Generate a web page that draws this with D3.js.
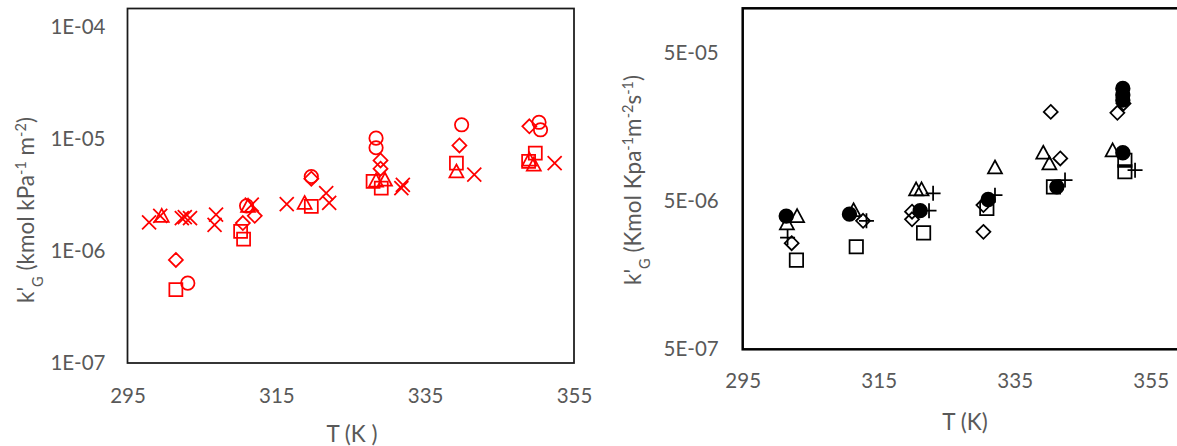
<!DOCTYPE html>
<html>
<head>
<meta charset="utf-8">
<script src="https://cdn.jsdelivr.net/npm/d3@7"></script>
<style>
  body { margin: 0; background: #fff; }
  svg { display: block; font-family: Lato, "Open Sans", sans-serif; }
  .tick text { fill: #595959; font-size: 20.5px; }
  .title { fill: #595959; font-size: 22.5px; }
</style>
</head>
<body>
<svg id="chart" width="1177" height="446"></svg>
<script>
/* x ticks shared by both panels */
var tempTicks = [295, 315, 335, 355];

/* left panel (red markers) */
var leftKTicks = [1e-7, 1e-6, 1e-5, 1e-4];
var redCircleT = [303.1, 311.0, 319.7, 328.4, 328.4, 339.9, 350.3, 350.5];
var redCircleK = [5.15e-7, 2.52e-6, 4.6e-6, 1.01e-5, 8.3e-6, 1.33e-5, 1.40e-5, 1.2e-5];
var redDiamondT = [301.5, 310.5, 312.1, 319.7, 329.0, 329.0, 339.6, 349.0];
var redDiamondK = [8.3e-7, 1.77e-6, 2.05e-6, 4.4e-6, 6.4e-6, 5.4e-6, 8.7e-6, 1.29e-5];
var redSquareT = [301.5, 310.2, 310.6, 319.7, 328.0, 329.1, 339.2, 348.9, 349.8];
var redSquareK = [4.5e-7, 1.49e-6, 1.27e-6, 2.49e-6, 4.16e-6, 3.63e-6, 6.06e-6, 6.26e-6, 7.45e-6];
var redTriangleT = [299.6, 311.2, 318.8, 328.4, 329.6, 339.2, 349.0, 349.6];
var redTriangleK = [2.05e-6, 2.52e-6, 2.67e-6, 4.22e-6, 4.3e-6, 5.1e-6, 6.5e-6, 5.86e-6];
var redCrossT = [297.9, 299.4, 302.3, 302.7, 303.4, 306.9, 306.7, 311.7, 316.4, 321.7, 322.1, 331.8, 332.0, 341.6, 352.4];
var redCrossK = [1.79e-6, 2.05e-6, 1.96e-6, 2.0e-6, 1.96e-6, 2.1e-6, 1.7e-6, 2.58e-6, 2.61e-6, 3.27e-6, 2.67e-6, 3.63e-6, 3.88e-6, 4.78e-6, 6.06e-6];

/* right panel (black markers) */
var rightKTicks = [5e-7, 5e-6, 5e-5];
var dotT = [301.4, 310.7, 321.1, 331.1, 341.2, 350.9, 350.9, 350.9, 350.9];
var dotK = [3.96e-6, 4.08e-6, 4.31e-6, 5.13e-6, 6.24e-6, 2.88e-5, 2.6e-5, 2.4e-5, 1.06e-5];
var triT = [301.5, 303.0, 311.3, 320.5, 321.3, 332.1, 339.2, 340.1, 349.4];
var triK = [3.54e-6, 3.96e-6, 4.34e-6, 6.0e-6, 6.0e-6, 8.43e-6, 1.06e-5, 8.97e-6, 1.10e-5];
var diaT = [302.2, 312.7, 319.9, 319.9, 330.4, 330.4, 340.3, 341.7, 350.1, 351.0];
var diaK = [2.6e-6, 3.68e-6, 4.24e-6, 3.77e-6, 4.7e-6, 3.1e-6, 2.0e-5, 9.7e-6, 1.97e-5, 2.28e-5];
var sqT = [302.9, 311.7, 321.6, 330.9, 340.7, 351.2, 351.2];
var sqK = [2.0e-6, 2.46e-6, 3.05e-6, 4.47e-6, 6.24e-6, 9.44e-6, 7.89e-6];
var plusT = [301.6, 313.2, 322.4, 323.0, 332.1, 342.4, 352.7];
var plusK = [2.84e-6, 3.68e-6, 4.31e-6, 5.64e-6, 5.48e-6, 6.93e-6, 8.09e-6];

var svg = d3.select("#chart");

/* marker outlines, s = half size */
function markerPath(shape, s) {
  switch (shape) {
    case "circle": return "M" + (-s) + ",0A" + s + "," + s + " 0 1 0 " + s + ",0A" + s + "," + s + " 0 1 0 " + (-s) + ",0Z";
    case "square": return "M" + (-s) + "," + (-s) + "H" + s + "V" + s + "H" + (-s) + "Z";
    case "diamond": return "M0," + (-s) + "L" + s + ",0L0," + s + "L" + (-s) + ",0Z";
    case "triangle": return "M0," + (-s) + "L" + s + "," + (s * 0.85) + "L" + (-s) + "," + (s * 0.85) + "Z";
    case "cross": return "M" + (-s) + "," + (-s) + "L" + s + "," + s + "M" + (-s) + "," + s + "L" + s + "," + (-s);
    case "plus": return "M" + (-s) + ",0H" + s + "M0," + (-s) + "V" + s;
  }
}

/* Excel style labels: 1E-04, 5E-06 ... */
function fmtE(v) {
  var exp = Math.floor(Math.log10(v) + 1e-9);
  var mant = Math.round(v / Math.pow(10, exp));
  return mant + "E-" + String(-exp).padStart(2, "0");
}

function drawPanel(cfg) {
  var g = svg.append("g");

  var x = d3.scaleLinear().domain(cfg.xDomain).range(cfg.xRange);
  var y = d3.scaleLog().domain(cfg.yDomain).range(cfg.yRange);

  g.append("g")
      .attr("transform", "translate(0," + cfg.yRange[0] + ")")
      .call(d3.axisBottom(x).tickValues(tempTicks).tickSize(0).tickPadding(cfg.xPad).tickFormat(d3.format("d")))
      .call(function(a) { a.select(".domain").remove(); });

  g.append("g")
      .attr("transform", "translate(" + cfg.xRange[0] + ",0)")
      .call(d3.axisLeft(y).tickValues(cfg.yTicks).tickSize(0).tickPadding(cfg.yPad).tickFormat(fmtE))
      .call(function(a) { a.select(".domain").remove(); });

  g.selectAll("g").attr("font-family", null).attr("font-size", null);

  /* plot area border */
  g.append("rect")
      .attr("x", cfg.xRange[0])
      .attr("y", cfg.boxTop)
      .attr("width", cfg.xRange[1] - cfg.xRange[0])
      .attr("height", cfg.yRange[0] - cfg.boxTop)
      .attr("fill", "none")
      .attr("stroke", cfg.boxColor)
      .attr("stroke-width", cfg.boxWidth);

  cfg.series.forEach(function(s) {
    var pts = s.t.map(function(t, i) { return {t: t, k: s.k[i]}; });
    g.selectAll(null)
        .data(pts)
      .enter().append("path")
        .attr("transform", function(d) { return "translate(" + x(d.t) + "," + y(d.k) + ")"; })
        .attr("d", markerPath(s.shape, s.size))
        .attr("fill", s.filled ? cfg.color : "none")
        .attr("stroke", cfg.color)
        .attr("stroke-width", cfg.markerStroke);
  });

  /* y title */
  var yt = g.append("text")
      .attr("class", "title")
      .attr("transform", "translate(" + cfg.yTitleX + "," + cfg.yTitleY + ") rotate(-90)")
      .attr("text-anchor", "middle")
      .attr("dy", "0.35em");
  cfg.yTitle.forEach(function(p) {
    yt.append("tspan")
        .attr("baseline-shift", p.shift || null)
        .attr("font-size", p.shift ? "14.5px" : null)
        .text(p.t);
  });

  g.append("text")
      .attr("class", "title")
      .attr("x", cfg.xTitleX)
      .attr("y", cfg.xTitleY)
      .attr("text-anchor", "middle")
      .attr("dy", "0.35em")
      .text(cfg.xTitle);
}

drawPanel({
  xDomain: [295, 355], xRange: [127.5, 574],
  yDomain: [1e-7, 1e-4], yRange: [363, 26.5],
  yTicks: leftKTicks, boxTop: 8.5, boxColor: "#1a1a1a", boxWidth: 1.75,
  xPad: 25, yPad: 22,
  color: "#ff0000", markerStroke: 1.75,
  series: [
    {t: redSquareT, k: redSquareK, shape: "square", size: 6.5},
    {t: redDiamondT, k: redDiamondK, shape: "diamond", size: 7},
    {t: redTriangleT, k: redTriangleK, shape: "triangle", size: 7},
    {t: redCrossT, k: redCrossK, shape: "cross", size: 7},
    {t: redCircleT, k: redCircleK, shape: "circle", size: 6.7}
  ],
  yTitle: [{t: "k'"}, {t: "G", shift: "sub"}, {t: " (kmol kPa"}, {t: "-1", shift: "super"}, {t: " m"}, {t: "-2", shift: "super"}, {t: ")"}],
  yTitleX: 26, yTitleY: 210,
  xTitle: "T (K )", xTitleX: 352, xTitleY: 434
});

drawPanel({
  xDomain: [295, 375], xRange: [742.7, 742.7 + 4 * 136],
  yDomain: [5e-7, 1e-4], yRange: [349.3, 8.3],
  yTicks: rightKTicks, boxTop: 8.3, boxColor: "#000", boxWidth: 2.5,
  xPad: 24.5, yPad: 24,
  color: "#000", markerStroke: 1.75,
  series: [
    {t: sqT, k: sqK, shape: "square", size: 6.7},
    {t: diaT, k: diaK, shape: "diamond", size: 7},
    {t: triT, k: triK, shape: "triangle", size: 7},
    {t: plusT, k: plusK, shape: "plus", size: 7.5},
    {t: dotT, k: dotK, shape: "circle", size: 6.8, filled: true}
  ],
  yTitle: [{t: "k'"}, {t: "G", shift: "sub"}, {t: " (Kmol Kpa"}, {t: "-1", shift: "super"}, {t: "m"}, {t: "-2", shift: "super"}, {t: "s"}, {t: "-1", shift: "super"}, {t: ")"}],
  yTitleX: 633, yTitleY: 180,
  xTitle: "T (K)", xTitleX: 965, xTitleY: 422
});
</script>
</body>
</html>
